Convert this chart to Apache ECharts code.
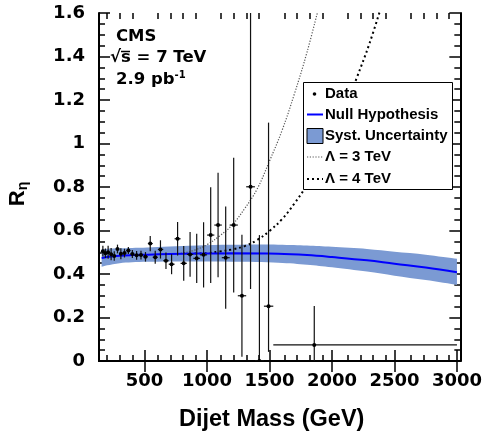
<!DOCTYPE html>
<html><head><meta charset="utf-8">
<script src="https://cdn.jsdelivr.net/npm/echarts@6/dist/echarts.min.js"></script>
<style>html,body{margin:0;padding:0;background:#fff}#c{width:485px;height:437px}</style>
</head><body><div id="c"></div>
<script>
// ---- data ----
const massX  = [166,186,208,232,257,283,310,339,370,402,436,471,507,545,585,627,671,716,764,813,864,917,972,1029,1088,1149,1213,1279,1348,1419,1492,1858];
const binLo  = [156,176,197,220,244,270,296,325,354,386,419,453,489,526,565,606,649,693,740,788,838,890,944,1000,1058,1118,1181,1246,1313,1383,1455,1530];
const binHi  = [176,197,220,244,270,296,325,354,386,419,453,489,526,565,606,649,693,740,788,838,890,944,1000,1058,1118,1181,1246,1313,1383,1455,1530,3000];
const ratio  = [0.505,0.495,0.500,0.491,0.483,0.515,0.493,0.496,0.508,0.492,0.486,0.487,0.479,0.540,0.477,0.513,0.461,0.445,0.562,0.449,0.490,0.472,0.488,0.579,0.625,0.475,0.625,0.300,0.801,0.000,0.252,0.074];
const errLow = [0.025,0.022,0.030,0.028,0.022,0.020,0.025,0.020,0.016,0.018,0.020,0.020,0.022,0.035,0.030,0.042,0.038,0.046,0.077,0.080,0.103,0.113,0.150,0.220,0.240,0.235,0.310,0.280,0.470,0.050,0.210,0.074];
const errHigh= [0.025,0.022,0.030,0.028,0.022,0.020,0.025,0.020,0.016,0.018,0.020,0.020,0.022,0.035,0.030,0.042,0.038,0.046,0.077,0.080,0.103,0.113,0.150,0.220,0.240,0.235,0.310,0.280,0.950,0.579,0.844,0.179];

const nullX    = [156,200,300,400,524,700,919,1200,1568,1800,2000,2280,2500,2750,3000];
const nullY    = [0.473,0.478,0.484,0.487,0.489,0.492,0.494,0.495,0.493,0.487,0.478,0.463,0.447,0.430,0.408];
const bandHigh = [0.513,0.516,0.518,0.520,0.522,0.526,0.531,0.534,0.535,0.531,0.525,0.515,0.502,0.489,0.470];
const bandLow  = [0.433,0.440,0.450,0.454,0.456,0.458,0.457,0.456,0.452,0.443,0.431,0.411,0.392,0.372,0.350];

const lam3X = [700,800,900,1000,1100,1200,1300,1400,1500,1600,1700,1800,1900];
const lam3Y = [0.492,0.496,0.510,0.535,0.575,0.625,0.700,0.790,0.920,1.060,1.230,1.420,1.640];
const lam4X = [900,1000,1100,1200,1300,1400,1500,1600,1700,1800,1900,2000,2100,2200,2300,2400];
const lam4Y = [0.494,0.496,0.503,0.513,0.528,0.556,0.598,0.652,0.725,0.810,0.915,1.025,1.155,1.305,1.460,1.640];

const xMajor = [500,1000,1500,2000,2500,3000];
const xMinor = [200,300,400,600,700,800,900,1100,1200,1300,1400,1600,1700,1800,1900,2100,2200,2300,2400,2600,2700,2800,2900];

const X_MIN = 135, X_MAX = 3027;
const BAND = '#7b9ad3';
const TICKF = {fontFamily:'DejaVu Sans', fontWeight:'bold', fontSize:18, color:'#000'};
const frame = {show:true, lineStyle:{color:'#000', width:2}};

// smooth open curve through screen points (Catmull-Rom -> cubic Bezier), appended to a path string
function curveThrough(pts, start) {
  let d = start ? 'M' + pts[0][0] + ',' + pts[0][1] : 'L' + pts[0][0] + ',' + pts[0][1];
  for (let i = 0; i < pts.length - 1; i++) {
    const p0 = pts[Math.max(i - 1, 0)], p1 = pts[i], p2 = pts[i + 1], p3 = pts[Math.min(i + 2, pts.length - 1)];
    const c1 = [p1[0] + (p2[0] - p0[0]) / 6, p1[1] + (p2[1] - p0[1]) / 6];
    const c2 = [p2[0] - (p3[0] - p1[0]) / 6, p2[1] - (p3[1] - p1[1]) / 6];
    d += 'C' + c1[0] + ',' + c1[1] + ',' + c2[0] + ',' + c2[1] + ',' + p2[0] + ',' + p2[1];
  }
  return d;
}

const chart = echarts.init(document.getElementById('c'), null, {renderer:'canvas'});
const gridRect = {left:99, top:13, right:20, bottom:76, show:false};
const tickLS = {color:'#000', width:1.5};

const option = {
  animation:false,
  backgroundColor:'#fff',
  grid:[Object.assign({}, gridRect), Object.assign({}, gridRect)],
  xAxis:[
    {gridIndex:0, type:'value', min:X_MIN, max:X_MAX, position:'bottom', axisLine:frame,
     axisTick:{show:true, inside:true, length:11, customValues:xMajor, lineStyle:tickLS},
     axisLabel:Object.assign({show:true, customValues:xMajor, margin:11, formatter:v=>String(v)}, TICKF), splitLine:{show:false}},
    {gridIndex:0, type:'value', min:X_MIN, max:X_MAX, position:'top', axisLine:frame,
     axisTick:{show:true, inside:true, length:11, customValues:xMajor, lineStyle:tickLS},
     axisLabel:{show:false}, splitLine:{show:false}},
    {gridIndex:1, type:'value', min:X_MIN, max:X_MAX, position:'bottom', axisLine:{show:false},
     axisTick:{show:true, inside:true, length:6, customValues:xMinor, lineStyle:tickLS},
     axisLabel:{show:false}, splitLine:{show:false}},
    {gridIndex:1, type:'value', min:X_MIN, max:X_MAX, position:'top', axisLine:{show:false},
     axisTick:{show:true, inside:true, length:6, customValues:xMinor, lineStyle:tickLS},
     axisLabel:{show:false}, splitLine:{show:false}}
  ],
  yAxis:[
    {gridIndex:0, type:'value', min:0, max:1.6, interval:0.2, position:'left', axisLine:frame,
     axisTick:{show:true, inside:true, length:11, lineStyle:tickLS},
     minorTick:{show:true, splitNumber:4, length:6, lineStyle:tickLS},
     axisLabel:Object.assign({show:true, margin:14, formatter:v=>String(+v.toFixed(1))}, TICKF),
     splitLine:{show:false}, minorSplitLine:{show:false}},
    {gridIndex:0, type:'value', min:0, max:1.6, interval:0.2, position:'right', axisLine:frame,
     axisTick:{show:true, inside:true, length:11, lineStyle:tickLS},
     minorTick:{show:true, splitNumber:4, length:6, lineStyle:tickLS},
     axisLabel:{show:false}, splitLine:{show:false}, minorSplitLine:{show:false}},
    {gridIndex:1, type:'value', min:0, max:1.6, show:false}
  ],
  series:[
    { // systematic uncertainty band
      type:'custom', xAxisIndex:0, yAxisIndex:0, z:1, clip:true,
      data: nullX.map((x,i)=>[x, bandLow[i], bandHigh[i]]),
      encode:{x:0, y:[1,2]},
      renderItem:(params, api)=>{
        if (params.dataIndex !== 0) return null;
        const up = nullX.map((x,i)=>api.coord([x, bandHigh[i]]));
        const dn = nullX.map((x,i)=>api.coord([x, bandLow[i]])).reverse();
        const d = curveThrough(up, true) + curveThrough(dn, false) + 'Z';
        return {type:'path', shape:{pathData:d}, style:{fill:BAND, stroke:null}};
      }
    },
    { type:'line', name:'lam3', z:2, xAxisIndex:0, yAxisIndex:0, data: lam3X.map((x,i)=>[x, lam3Y[i]]),
      smooth:0.4, showSymbol:false, symbol:'none', lineStyle:{color:'#555', width:1.2, type:[1.2,1.6]} },
    { type:'line', name:'lam4', z:2, xAxisIndex:0, yAxisIndex:0, data: lam4X.map((x,i)=>[x, lam4Y[i]]),
      smooth:0.4, showSymbol:false, symbol:'none', lineStyle:{color:'#000', width:2, type:[2,3]} },
    { type:'line', name:'null', z:3, xAxisIndex:0, yAxisIndex:0, data: nullX.map((x,i)=>[x, nullY[i]]),
      smooth:0.4, showSymbol:false, symbol:'none', lineStyle:{color:'#0000ff', width:2} },
    { // data points with error bars
      type:'custom', xAxisIndex:0, yAxisIndex:0, z:4, clip:true,
      data: massX.map((x,i)=>[x, ratio[i], ratio[i]-errLow[i], ratio[i]+errHigh[i], binLo[i], binHi[i]]),
      encode:{x:0, y:1},
      renderItem:(params, api)=>{
        const x=api.value(0), y=api.value(1);
        const p = api.coord([x,y]);
        const lo = api.coord([x, api.value(2)]), hi = api.coord([x, api.value(3)]);
        const l = api.coord([api.value(4), y]), r = api.coord([api.value(5), y]);
        return {type:'group', children:[
          {type:'line', shape:{x1:p[0], y1:lo[1], x2:p[0], y2:hi[1]}, style:{stroke:'#111', lineWidth:1.2}},
          {type:'line', shape:{x1:l[0], y1:p[1], x2:r[0], y2:p[1]}, style:{stroke:'#111', lineWidth:1.2}},
          {type:'circle', shape:{cx:p[0], cy:p[1], r:2}, style:{fill:'#000'}}
        ]};
      }
    }
  ],
  graphic:[
    // CMS label block
    {type:'text', left:116, top:28, z:10, style:{text:'CMS', fontFamily:'DejaVu Sans', fontWeight:'bold', fontSize:16.5, fill:'#000'}},
    {type:'text', left:110, top:49, z:10, style:{text:'√s = 7 TeV', fontFamily:'DejaVu Sans', fontWeight:'bold', fontSize:16.5, fill:'#000'}},
    {type:'text', left:116, top:70, z:10, style:{text:'{a|2.9 pb}{b|-1}', fill:'#000',
      rich:{a:{fontFamily:'DejaVu Sans', fontWeight:'bold', fontSize:16.5, lineHeight:20}, b:{fontFamily:'DejaVu Sans', fontWeight:'bold', fontSize:10, verticalAlign:'top', lineHeight:20}}}},
    {type:'line', z:10, shape:{x1:121, y1:51.5, x2:130, y2:51.5}, style:{stroke:'#000', lineWidth:1.5}},
    // legend
    {type:'rect', z:10, shape:{x:303.5, y:82.5, width:149, height:107}, style:{fill:'#fff', stroke:'#000', lineWidth:1}},
    {type:'circle', z:11, shape:{cx:314.5, cy:94, r:1.8}, style:{fill:'#000'}},
    {type:'line', z:11, shape:{x1:307, y1:114.5, x2:323, y2:114.5}, style:{stroke:'#0000ff', lineWidth:2}},
    {type:'rect', z:11, shape:{x:307, y:128.5, width:16, height:15}, style:{fill:BAND, stroke:'#000', lineWidth:1}},
    {type:'line', z:11, shape:{x1:307, y1:157, x2:323, y2:157}, style:{stroke:'#555', lineWidth:1.2, lineDash:[1.2,1.6]}},
    {type:'line', z:11, shape:{x1:307, y1:179, x2:323, y2:179}, style:{stroke:'#000', lineWidth:2, lineDash:[2,3]}},
    {type:'text', z:11, left:325, top:86, style:{text:'Data', fontFamily:'Liberation Sans', fontWeight:'bold', fontSize:15, fill:'#000'}},
    {type:'text', z:11, left:325, top:107, style:{text:'Null Hypothesis', fontFamily:'Liberation Sans', fontWeight:'bold', fontSize:15, fill:'#000'}},
    {type:'text', z:11, left:325, top:128, style:{text:'Syst. Uncertainty', fontFamily:'Liberation Sans', fontWeight:'bold', fontSize:15, fill:'#000'}},
    {type:'text', z:11, left:325, top:149, style:{text:'Λ = 3 TeV', fontFamily:'Liberation Sans', fontWeight:'bold', fontSize:15, fill:'#000'}},
    {type:'text', z:11, left:325, top:171, style:{text:'Λ = 4 TeV', fontFamily:'Liberation Sans', fontWeight:'bold', fontSize:15, fill:'#000'}},
    // axis titles
    {type:'text', z:10, left:179, top:408, style:{text:'Dijet Mass (GeV)', fontFamily:'Liberation Sans', fontWeight:'bold', fontSize:23.5, fill:'#000'}},
    {type:'text', z:10, x:18, y:194, rotation:Math.PI/2, style:{text:'{r|R}{s|η}', align:'center', verticalAlign:'middle',
      rich:{r:{fontFamily:'Liberation Sans', fontWeight:'bold', fontSize:22, lineHeight:24, fill:'#000'},
            s:{fontFamily:'Liberation Sans', fontWeight:'bold', fontSize:14, lineHeight:24, verticalAlign:'bottom', fill:'#000'}}}}
  ]
};
chart.setOption(option);
</script></body></html>
